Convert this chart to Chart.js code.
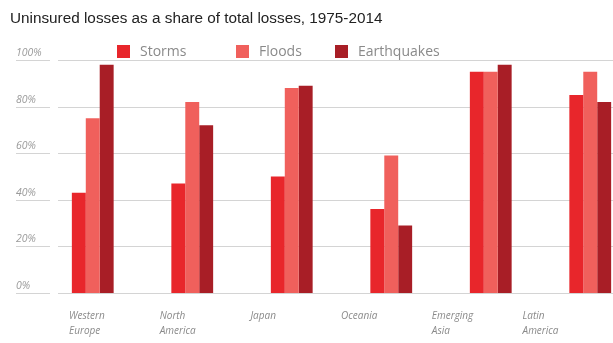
<!DOCTYPE html>
<html>
<head>
<meta charset="utf-8">
<script src="https://cdn.jsdelivr.net/npm/chart.js@4.4.0/dist/chart.umd.min.js"></script>
<style>
  html, body { margin: 0; padding: 0; background: #fff; overflow: hidden; width: 613px; height: 343px; }
  #wrap { position: absolute; left: 0; top: 0; width: 650px; height: 343px; }
  #title { position: absolute; left: 10px; top: 10px; font: 15.3px "Liberation Sans", Arial, sans-serif; line-height: 15px; color: #222; white-space: nowrap; }
  .lg { position: absolute; top: 45px; height: 13px; }
  .lg i { position: absolute; left: 0; top: 0; width: 13px; height: 13px; }
  .lg span { position: absolute; left: 23px; top: -3px; font: 14px "Open Sans", sans-serif; line-height: 18px; color: #8a8a8a; white-space: nowrap; }
</style>
</head>
<body>
<div id="wrap"><canvas id="c" width="650" height="343"></canvas></div>
<div id="title">Uninsured losses as a share of total losses, 1975-2014</div>
<div id="legend"></div>
<script>
// ── Daten ──
var regions = ["Western Europe", "North America", "Japan", "Oceania", "Emerging Asia", "Latin America"];
var regionLines = [["Western", "Europe"], ["North", "America"], ["Japan"], ["Oceania"], ["Emerging", "Asia"], ["Latin", "America"]];
var seriesNames = ["Storms", "Floods", "Earthquakes"];
var storms = [43, 47, 50, 36, 95, 85];
var floods = [75, 82, 88, 59, 95, 95];
var quakes = [98, 72, 89, 29, 98, 82];
var yTicks = [0, 20, 40, 60, 80, 100];

var COLORS = ["#e8262b", "#f0605c", "#a81e26"];
var legendX = [117, 236, 335];

// HTML-Legende
var lgHtml = "";
for (var i = 0; i < seriesNames.length; i++) {
  lgHtml += '<div class="lg" style="left:' + legendX[i] + 'px;"><i style="background:' + COLORS[i] + ';"></i><span>' + seriesNames[i] + '</span></div>';
}
document.getElementById("legend").innerHTML = lgHtml;

// Gitterlinien mit kleiner Lücke hinter den Achsenbeschriftungen
var gridPlugin = {
  id: "gridLines",
  beforeDatasetsDraw: function(chart) {
    var ctx = chart.ctx, y = chart.scales.y;
    ctx.save();
    ctx.strokeStyle = "#d4d4d4";
    ctx.lineWidth = 1;
    yTicks.forEach(function(v) {
      var py = Math.round(y.getPixelForValue(v)) + 0.5;
      ctx.beginPath();
      ctx.moveTo(16, py); ctx.lineTo(50, py);
      ctx.moveTo(58, py); ctx.lineTo(chart.width, py);
      ctx.stroke();
    });
    ctx.restore();
  }
};

new Chart(document.getElementById("c").getContext("2d"), {
  type: "bar",
  data: {
    labels: regions,
    datasets: [
      { label: seriesNames[0], data: storms, backgroundColor: COLORS[0] },
      { label: seriesNames[1], data: floods, backgroundColor: COLORS[1] },
      { label: seriesNames[2], data: quakes, backgroundColor: COLORS[2] }
    ]
  },
  options: {
    responsive: false,
    animation: false,
    layout: { padding: { left: 16, right: 10, top: 60, bottom: 0 } },
    datasets: { bar: { categoryPercentage: 0.42, barPercentage: 1.0, borderWidth: 0 } },
    plugins: { legend: { display: false }, tooltip: { enabled: false } },
    scales: {
      x: { display: false },
      x2: {
        type: "linear",
        position: "bottom",
        bounds: "data",
        offset: false,
        min: -0.2867,
        max: 6.295,
        afterBuildTicks: function(s) { s.ticks = [0, 1, 2, 3, 4, 5].map(function(v) { return { value: v }; }); },
        afterFit: function(s) { s.height = 50; },
        grid: { display: false, drawTicks: false, offset: false },
        border: { display: false },
        ticks: {
          align: "start",
          autoSkip: false,
          maxRotation: 0,
          padding: 16,
          color: "#8a8a8a",
          font: { family: "Open Sans", size: 10, style: "italic", lineHeight: 1.5 },
          callback: function(v) { return regionLines[v] || ""; }
        }
      },
      y: {
        min: 0,
        max: 100,
        afterBuildTicks: function(s) { s.ticks = yTicks.map(function(v) { return { value: v }; }); },
        afterFit: function(s) { s.width = 27; },
        grid: { display: false, drawTicks: false },
        border: { display: false },
        ticks: {
          crossAlign: "far",
          labelOffset: -7,
          padding: 0,
          color: "#9a9a9a",
          font: { family: "Open Sans", size: 10.5, style: "italic" },
          callback: function(v) { return v + "%"; }
        }
      }
    }
  },
  plugins: [gridPlugin]
});
</script>
</body>
</html>
